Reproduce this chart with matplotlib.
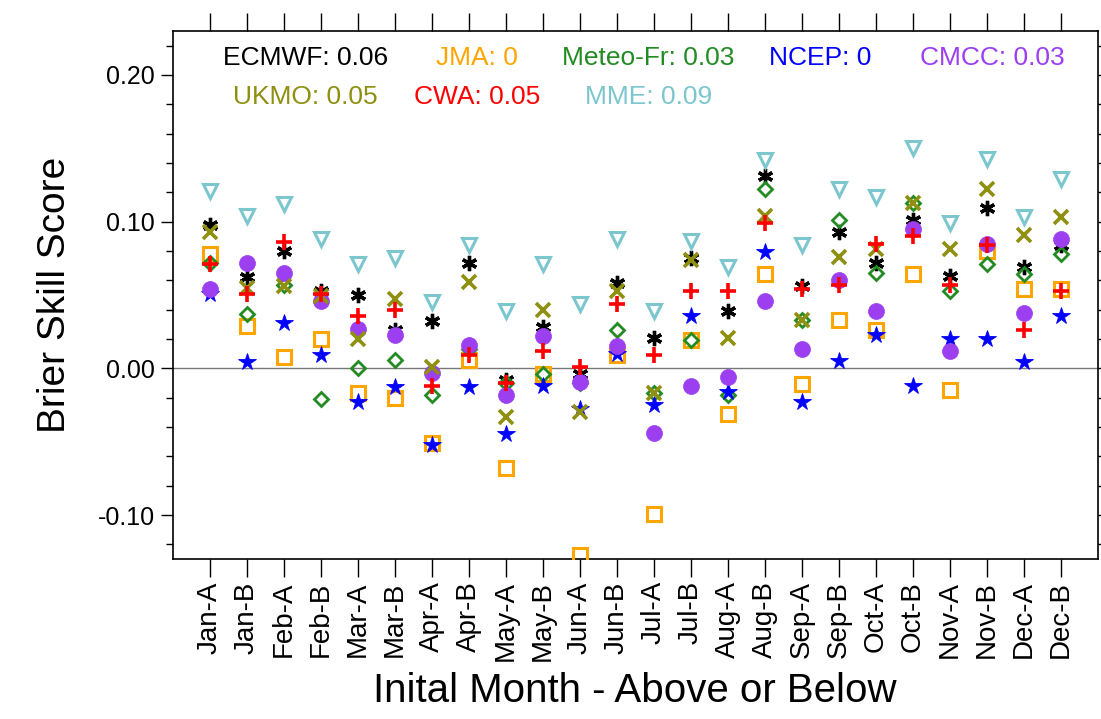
import matplotlib
matplotlib.use('Agg')
import matplotlib.pyplot as plt
import numpy as np

plt.rcParams['font.family'] = ['Liberation Sans', 'DejaVu Sans']

months = ['Jan-A', 'Jan-B', 'Feb-A', 'Feb-B', 'Mar-A', 'Mar-B', 'Apr-A', 'Apr-B',
          'May-A', 'May-B', 'Jun-A', 'Jun-B', 'Jul-A', 'Jul-B', 'Aug-A', 'Aug-B',
          'Sep-A', 'Sep-B', 'Oct-A', 'Oct-B', 'Nov-A', 'Nov-B', 'Dec-A', 'Dec-B']

ecmwf = [0.098, 0.062, 0.080, 0.053, 0.050, 0.026, 0.032, 0.072, -0.008, 0.028, -0.004, 0.058,
         0.021, 0.075, 0.039, 0.131, 0.056, 0.093, 0.072, 0.101, 0.063, 0.109, 0.069, 0.084]
jma = [0.078, 0.029, 0.008, 0.020, -0.017, -0.020, -0.051, 0.006, -0.068, -0.004, -0.127, 0.009,
       -0.099, 0.019, -0.031, 0.064, -0.011, 0.033, 0.026, 0.064, -0.015, 0.080, 0.054, 0.054]
meteo = [0.072, 0.037, 0.057, -0.021, 0.000, 0.006, -0.018, 0.013, -0.010, -0.004, -0.010, 0.026,
         -0.017, 0.019, -0.018, 0.122, 0.033, 0.101, 0.065, 0.113, 0.053, 0.071, 0.064, 0.078]
ncep = [0.051, 0.004, 0.031, 0.009, -0.023, -0.013, -0.052, -0.013, -0.045, -0.012, -0.028, 0.010,
        -0.025, 0.036, -0.016, 0.079, -0.023, 0.005, 0.023, -0.012, 0.020, 0.020, 0.004, 0.036]
cmcc = [0.054, 0.072, 0.065, 0.046, 0.027, 0.023, -0.003, 0.016, -0.018, 0.022, -0.009, 0.015,
        -0.044, -0.012, -0.006, 0.046, 0.013, 0.060, 0.039, 0.095, 0.012, 0.085, 0.038, 0.088]
ukmo = [0.093, 0.055, 0.056, 0.049, 0.020, 0.047, 0.001, 0.059, -0.033, 0.040, -0.030, 0.053,
        -0.017, 0.074, 0.021, 0.104, 0.033, 0.076, 0.081, 0.113, 0.081, 0.122, 0.091, 0.103]
cwa = [0.071, 0.051, 0.086, 0.051, 0.036, 0.040, -0.012, 0.009, -0.010, 0.012, 0.001, 0.044,
       0.009, 0.053, 0.053, 0.099, 0.054, 0.057, 0.085, 0.090, 0.057, 0.084, 0.026, 0.053]
mme = [0.121, 0.104, 0.112, 0.088, 0.071, 0.075, 0.045, 0.084, 0.039, 0.071, 0.044, 0.088,
       0.039, 0.087, 0.069, 0.142, 0.084, 0.122, 0.117, 0.150, 0.099, 0.143, 0.103, 0.129]

# overall scores shown in the legend text
names = ['ECMWF', 'JMA', 'Meteo-Fr', 'NCEP', 'CMCC', 'UKMO', 'CWA', 'MME']
scores = ['0.06', '0', '0.03', '0', '0.03', '0.05', '0.05', '0.09']

series = [ecmwf, jma, meteo, ncep, cmcc, ukmo, cwa, mme]
colors = ['black', 'orange', 'forestgreen', 'blue', '#9b3ff0', '#8f8f10', 'red', '#7cc6ce']
# marker, size, edge width, filled
styles = [((6, 2, 0), 11, 2.4, True),
          ('s', 9.5, 2.2, False),
          ('D', 7, 2.0, False),
          ('*', 13, 0.6, True),
          ('o', 11.5, 0.5, True),
          ('x', 10, 2.6, True),
          ('+', 12, 2.6, True),
          ('v', 10.5, 2.2, False)]

fig = plt.figure(figsize=(11.01, 7.19), dpi=100)
ax = fig.add_axes([0.157, 0.2225, 0.84, 0.7345])

x = np.arange(len(months))
ax.axhline(0, color='#777777', lw=1.0, zorder=1)

for vals, c, (m, ms, mew, filled) in zip(series, colors, styles):
    if filled:
        ax.plot(x, vals, ls='none', marker=m, ms=ms, mew=mew, color=c, mec=c, zorder=3)
    else:
        ax.plot(x, vals, ls='none', marker=m, ms=ms, mew=mew, mfc='none', mec=c, zorder=3)

ax.set_xlim(-1, 24)
ax.set_ylim(-0.13, 0.23)
ax.set_xticks(x)
ax.set_xticklabels(months, rotation=90, fontsize=20)
ax.set_yticks([-0.10, 0.0, 0.10, 0.20])
ax.set_yticklabels(['-0.10', '0.00', '0.10', '0.20'], fontsize=18)
ax.set_yticks(np.arange(-0.12, 0.23, 0.02), minor=True)
ax.tick_params(axis='x', direction='out', length=13, width=1.0, top=True, bottom=True, pad=3)
ax.tick_params(axis='y', which='major', direction='out', length=9, width=1.0, left=True, right=True, pad=4)
ax.tick_params(axis='y', which='minor', direction='out', length=5, width=1.0, left=True, right=True)
for sp in ax.spines.values():
    sp.set_linewidth(1.2)

# coloured score text rows
xpos = [0.143, 0.329, 0.514, 0.700, 0.886, 0.143, 0.329, 0.514]
ypos = [0.949, 0.949, 0.949, 0.949, 0.949, 0.875, 0.875, 0.875]
for n, s, c, xp, yp in zip(names, scores, colors, xpos, ypos):
    ax.text(xp, yp, f'{n}: {s}', color=c, fontsize=19, ha='center', va='center',
            transform=ax.transAxes)

fig.text(0.05, 1 - 295 / 719, 'Brier Skill Score', rotation=90, fontsize=28,
         ha='center', va='center')
fig.text(0.577, 1 - 691 / 719, 'Inital Month - Above or Below', fontsize=29,
         ha='center', va='center')

fig.savefig('out.png', dpi=100)
